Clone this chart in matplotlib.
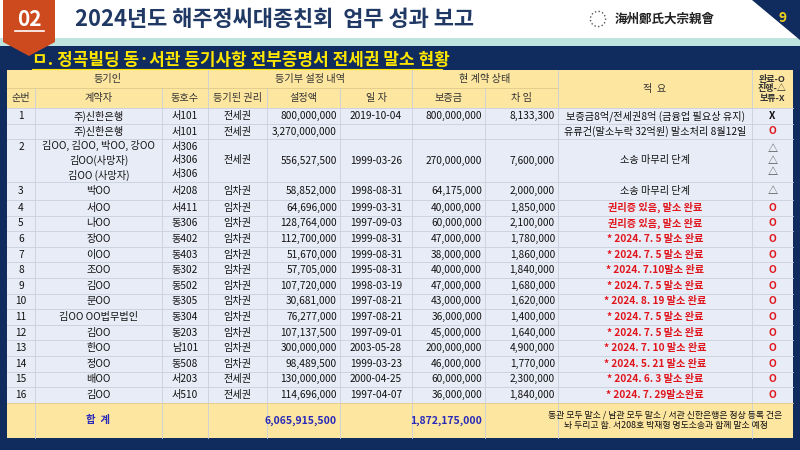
import matplotlib
matplotlib.use("Agg")
import matplotlib.pyplot as plt
from matplotlib import font_manager as fm
from matplotlib.patches import Rectangle, Polygon

_names = sorted({f.name for f in fm.fontManager.ttflist if "CJK" in f.name})
_pref = [n for n in ["Noto Sans CJK KR", "Noto Sans CJK JP", "Noto Sans CJK SC", "Noto Sans CJK TC"] if n in _names]
CJK = (_pref or _names or ["DejaVu Sans"])[0]
plt.rcParams["font.family"] = [CJK, "DejaVu Sans"]

title = "2024년도 해주정씨대종친회  업무 성과 보고"
subtitle = "ㅁ. 정곡빌딩 동·서관 등기사항 전부증명서 전세권 말소 현황"
org = "海州鄭氏大宗親會"
page = "9"
section = "02"

seq = ["1", "", "2\n\n", "3", "4", "5", "6", "7", "8", "9", "10", "11", "12", "13", "14", "15", "16"]
names = ["주)신한은행", "주)신한은행", "김OO, 김OO, 박OO, 강OO\n김OO(사망자)\n김OO (사망자)",
         "박OO", "서OO", "나OO", "장OO", "이OO", "조OO", "김OO", "문OO", "김OO OO법무법인", "김OO",
         "한OO", "정OO", "배OO", "김OO"]
units = ["서101", "서101", "서306\n서306\n서306", "서208", "서411", "동306", "동402", "동403", "동302",
         "동502", "동305", "동304", "동203", "남101", "동508", "서203", "서510"]
rights = ["전세권", "전세권", "전세권", "임차권", "임차권", "임차권", "임차권", "임차권", "임차권",
          "임차권", "임차권", "임차권", "임차권", "임차권", "임차권", "전세권", "전세권"]
amounts = ["800,000,000", "3,270,000,000", "556,527,500", "58,852,000", "64,696,000", "128,764,000",
           "112,700,000", "51,670,000", "57,705,000", "107,720,000", "30,681,000", "76,277,000",
           "107,137,500", "300,000,000", "98,489,500", "130,000,000", "114,696,000"]
dates = ["2019-10-04", "", "1999-03-26", "1998-08-31", "1999-03-31", "1997-09-03", "1999-08-31",
         "1999-08-31", "1995-08-31", "1998-03-19", "1997-08-21", "1997-08-21", "1997-09-01",
         "2003-05-28", "1999-03-23", "2000-04-25", "1997-04-07"]
deposits = ["800,000,000", "", "270,000,000", "64,175,000", "40,000,000", "60,000,000", "47,000,000",
            "38,000,000", "40,000,000", "47,000,000", "43,000,000", "36,000,000", "45,000,000",
            "200,000,000", "46,000,000", "60,000,000", "36,000,000"]
rents = ["8,133,300", "", "7,600,000", "2,000,000", "1,850,000", "2,100,000", "1,780,000", "1,860,000",
         "1,840,000", "1,680,000", "1,620,000", "1,400,000", "1,640,000", "4,900,000", "1,770,000",
         "2,300,000", "1,840,000"]
notes = ["보증금8억/전세권8억 (금융업 필요상 유지)", "유류건(말소누락 32억원) 말소처리 8월12일",
         "소송 마무리 단계", "소송 마무리 단계", "권리증 있음, 말소 완료", "권리증 있음, 말소 완료",
         "* 2024. 7. 5 말소 완료", "* 2024. 7. 5 말소 완료", "* 2024. 7.10말소 완료",
         "* 2024. 7. 5 말소 완료", "* 2024. 8. 19 말소 완료", "* 2024. 7. 5 말소 완료",
         "* 2024. 7. 5 말소 완료", "* 2024. 7. 10 말소 완료", "* 2024. 5. 21 말소 완료",
         "* 2024. 6. 3 말소 완료", "* 2024. 7. 29말소완료"]
status = ["X", "O", "△\n△\n△", "△", "O", "O", "O", "O", "O", "O", "O", "O", "O", "O", "O", "O", "O"]
total_label = "합  계"
total_amount = "6,065,915,500"
total_deposit = "1,872,175,000"
total_note = "동관 모두 말소 / 남관 모두 말소 / 서관 신한은행은 정상 등록 건은\n놔 두리고 함. 서208호 박재형 명도소송과 함께 말소 예정"
head1 = ["등기인", "등기부 설정 내역", "현 계약 상태"]
head2 = ["순번", "계약자", "동호수", "등기된 권리", "설정액", "일 자", "보증금", "차 임"]

W, H = 800, 450
fig = plt.figure(figsize=(8, 4.5), dpi=100)
ax = fig.add_axes([0, 0, 1, 1])
ax.set_xlim(0, W); ax.set_ylim(H, 0); ax.axis("off")

NAVY = "#102c5f"
ax.add_patch(Rectangle((0, 0), W, 40, fc="white", ec="none"))
ax.add_patch(Rectangle((0, 38), W, 8, fc="#bfe3df", ec="none"))
ax.add_patch(Rectangle((0, 46), W, 404, fc=NAVY, ec="none"))
ax.add_patch(Polygon([[752, 0], [800, 0], [800, 40]], fc=NAVY, ec="none"))
ax.add_patch(Polygon([[3, 0], [55, 0], [55, 42], [29, 56], [3, 42]], fc="#cc4a1e", ec="none"))
ax.text(29, 19, section, color="white", fontsize=15, fontweight="bold", ha="center", va="center")
ax.plot([15, 44], [31, 31], color="white", lw=1.2)
ax.text(75, 19, title, color="#1f3864", fontsize=15.8, fontweight="bold", va="center")
ax.text(615, 19, org, color="#222", fontsize=9, fontweight="bold", va="center")
ax.scatter([598], [19], s=120, facecolors="none", edgecolors="#555", linestyle=":")
ax.text(783, 18, page, color="#f2d21b", fontsize=10, fontweight="bold", ha="center", va="center")
ax.text(32, 60, subtitle, color="#ffe600", fontsize=12.2, fontweight="bold", va="center")
ax.plot([32, 442], [69, 69], color="#ffe600", lw=0.8)

xs = [7, 35, 162, 208, 267, 340, 412, 485, 558, 752, 793]
hy = [70, 88, 108]
rh = [16, 15, 43, 18] + [15.6] * 13
ys = [hy[2]]
for h in rh:
    ys.append(ys[-1] + h)
tot_bot = 438

YEL = "#fde6a0"
LB = "#e8ecf6"
ax.add_patch(Rectangle((xs[0], hy[0]), xs[-1] - xs[0], hy[2] - hy[0], fc=YEL, ec="none"))
ax.add_patch(Rectangle((xs[0], ys[0]), xs[-1] - xs[0], ys[-1] - ys[0], fc=LB, ec="none"))
ax.add_patch(Rectangle((xs[0], ys[-1]), xs[-1] - xs[0], tot_bot - ys[-1], fc=YEL, ec="none"))

gc = "#c9cfdc"
for x in xs[1:-1]:
    y0 = hy[1] if x in (35, 162, 267, 340, 485) else hy[0]
    ax.plot([x, x], [y0, tot_bot], color=gc, lw=0.6)
ax.plot([xs[0], xs[8]], [hy[1], hy[1]], color="#e0c98a", lw=0.6)
for y in ys[:-1]:
    ax.plot([xs[0], xs[-1]], [y, y], color=gc, lw=0.6)
ax.plot([xs[0], xs[-1]], [ys[-1], ys[-1]], color="#e0c98a", lw=0.6)

fs = 7.3
hc = "#333"
for (a, b), t in zip([(0, 3), (3, 6), (6, 8)], head1):
    ax.text((xs[a] + xs[b]) / 2, (hy[0] + hy[1]) / 2, t, fontsize=fs, ha="center", va="center", color=hc)
for i, t in enumerate(head2):
    ax.text((xs[i] + xs[i + 1]) / 2, (hy[1] + hy[2]) / 2, t, fontsize=fs, ha="center", va="center", color=hc)
ax.text((xs[8] + xs[9]) / 2, (hy[0] + hy[2]) / 2, "적  요", fontsize=fs, ha="center", va="center", color=hc)
ax.text((xs[9] + xs[10]) / 2, (hy[0] + hy[2]) / 2, "완료-O\n진행-△\n보류-X", fontsize=6.5, ha="center",
        va="center", color=hc, fontweight="bold", linespacing=1.1)

for r in range(len(seq)):
    cy = (ys[r] + ys[r + 1]) / 2
    red = r >= 4
    cells = [seq[r], names[r], units[r], rights[r], amounts[r], dates[r], deposits[r], rents[r]]
    for c, t in enumerate(cells):
        if c in (4, 6, 7):
            ax.text(xs[c + 1] - 3, cy, t, fontsize=fs, ha="right", va="center", color="#111", linespacing=1.45)
        else:
            ax.text((xs[c] + xs[c + 1]) / 2, cy, t, fontsize=fs, ha="center", va="center", color="#111",
                    linespacing=1.45)
    ax.text((xs[8] + xs[9]) / 2, cy, notes[r], fontsize=fs, ha="center", va="center",
            color="#e0151b" if red else "#111", fontweight="bold" if red else "normal")
    s = status[r]
    col = "#e0151b" if s == "O" else ("#111" if s == "X" else "#555")
    ax.text((xs[9] + xs[10]) / 2, cy, s, fontsize=fs, ha="center", va="center", color=col,
            fontweight="bold", linespacing=1.2)

ty = (ys[-1] + tot_bot) / 2
ax.text((xs[1] + xs[2]) / 2, ty, total_label, fontsize=7.5, ha="center", va="center", color="#2a2ab8", fontweight="bold")
ax.text(xs[5] - 3, ty, total_amount, fontsize=7.5, ha="right", va="center", color="#2a2ab8", fontweight="bold")
ax.text(xs[7] - 3, ty, total_deposit, fontsize=7.5, ha="right", va="center", color="#2a2ab8", fontweight="bold")
ax.text((xs[8] + xs[10]) / 2 - 10, ty, total_note, fontsize=6.4, ha="center", va="center", color="#111", linespacing=1.2)

fig.savefig("out.png", dpi=100)
